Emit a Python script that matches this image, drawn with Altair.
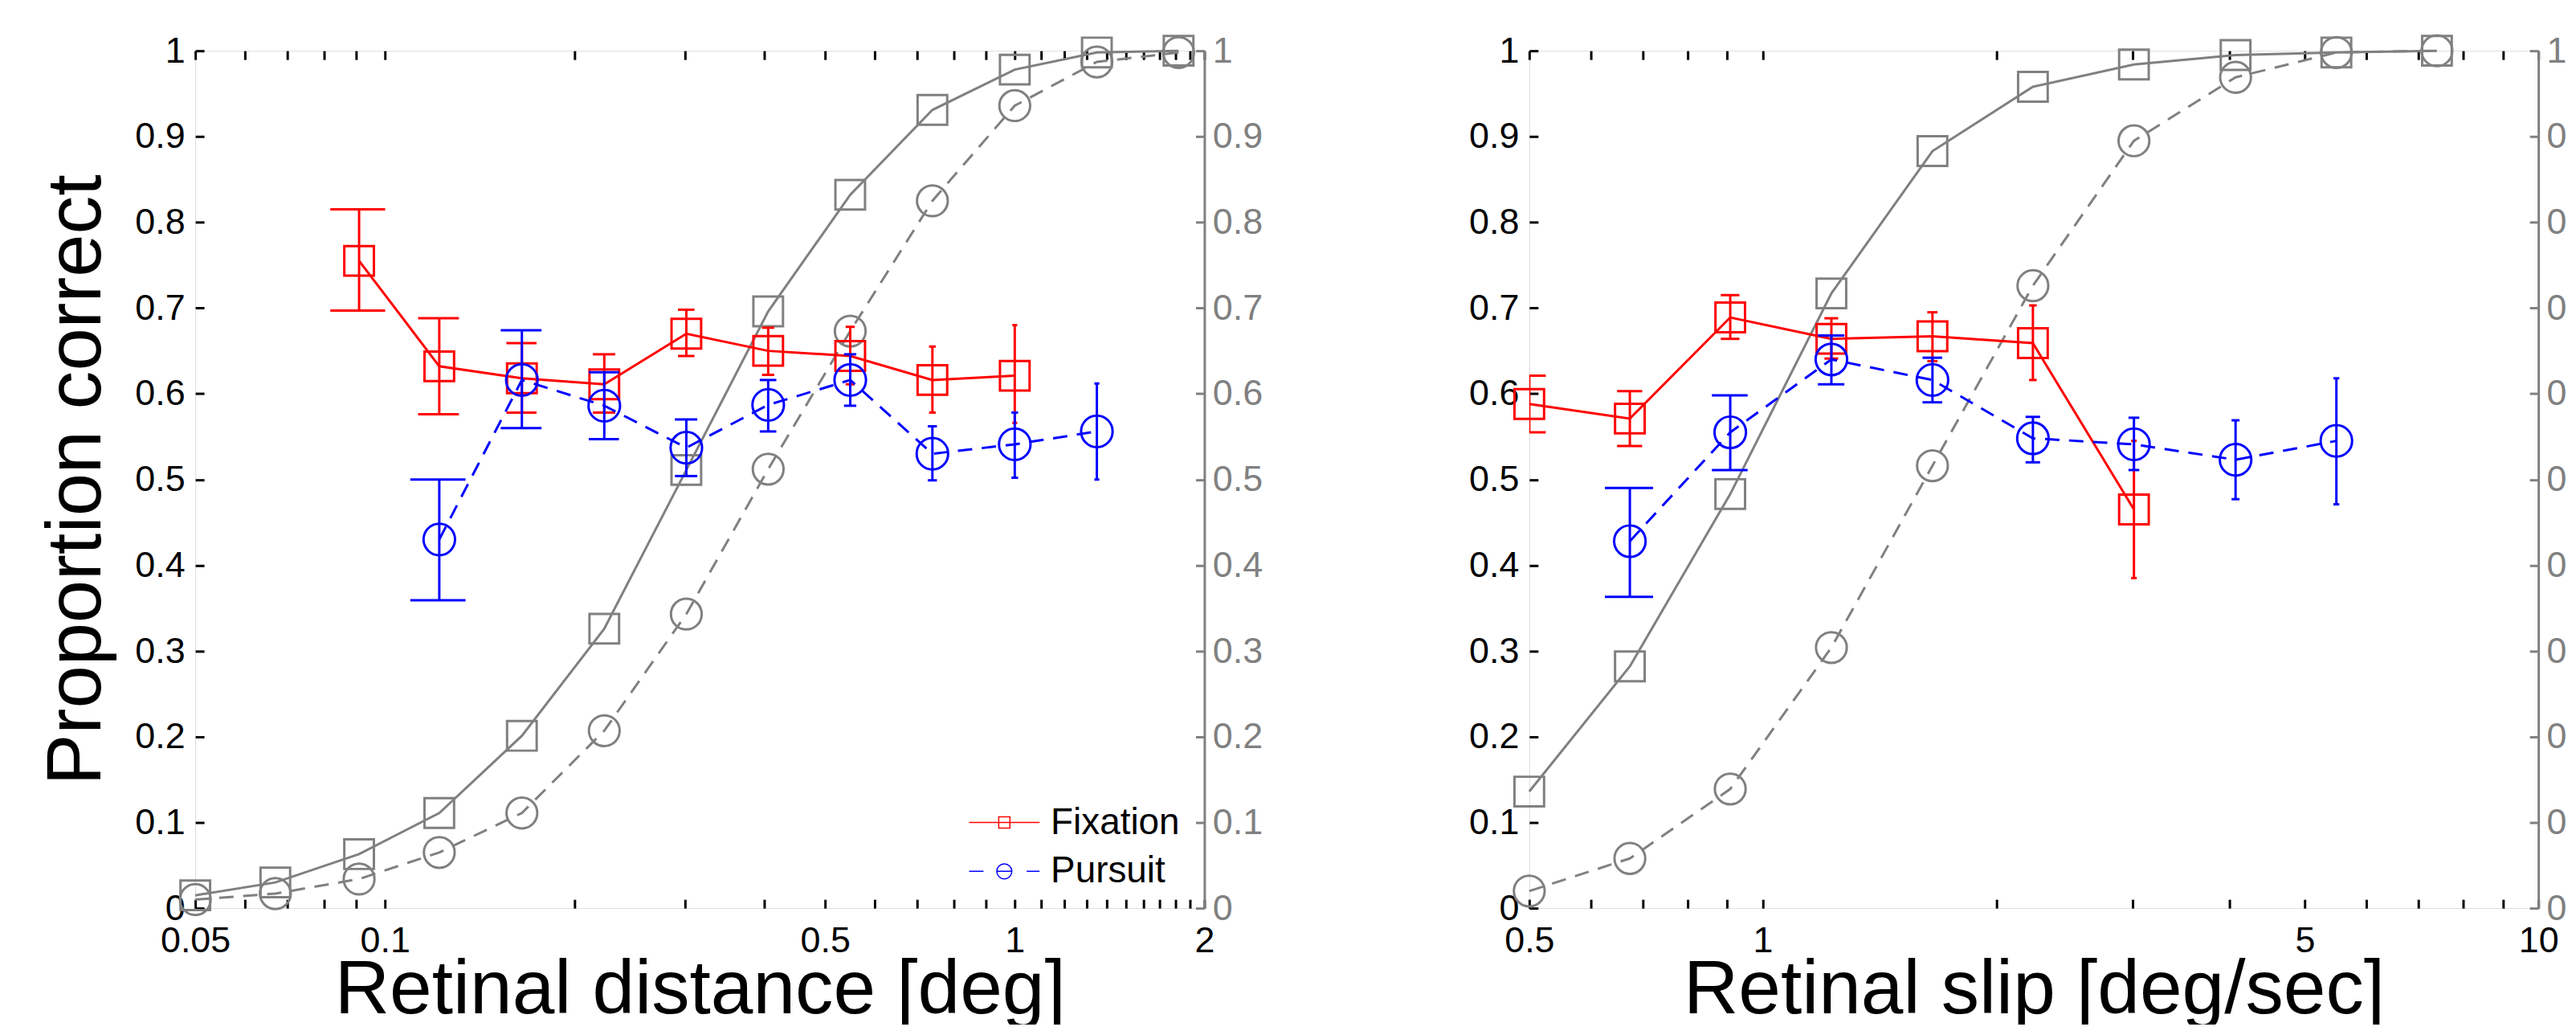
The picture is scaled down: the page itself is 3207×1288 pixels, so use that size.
import altair as alt
import pandas as pd

# ---------------- data ----------------
# Left panel: retinal distance [deg]
dist_x = [0.05, 0.067, 0.091, 0.122, 0.165, 0.223, 0.301, 0.406, 0.548, 0.740, 1.0, 1.35, 1.82]
dist_fix_fit = [0.015, 0.030, 0.063, 0.111, 0.201, 0.326, 0.511, 0.696, 0.832, 0.931, 0.978, 0.998, 1.0]
dist_pur_fit = [0.010, 0.017, 0.034, 0.065, 0.111, 0.207, 0.343, 0.512, 0.673, 0.825, 0.936, 0.987, 0.998]

dist_fix_x = [0.091, 0.122, 0.165, 0.223, 0.301, 0.406, 0.548, 0.740, 1.0]
dist_fix_m = [0.755, 0.632, 0.618, 0.611, 0.670, 0.650, 0.644, 0.616, 0.621]
dist_fix_hi = [0.815, 0.688, 0.659, 0.646, 0.698, 0.677, 0.678, 0.655, 0.680]
dist_fix_lo = [0.697, 0.576, 0.578, 0.578, 0.644, 0.622, 0.611, 0.578, 0.566]

dist_pur_x = [0.122, 0.165, 0.223, 0.301, 0.406, 0.548, 0.740, 1.0, 1.35]
dist_pur_m = [0.430, 0.616, 0.586, 0.537, 0.587, 0.616, 0.530, 0.541, 0.556]
dist_pur_hi = [0.500, 0.674, 0.625, 0.570, 0.616, 0.646, 0.562, 0.578, 0.612]
dist_pur_lo = [0.359, 0.560, 0.547, 0.504, 0.556, 0.586, 0.499, 0.502, 0.500]

# Right panel: retinal slip [deg/sec]
slip_x = [0.5, 0.674, 0.908, 1.226, 1.655, 2.23, 3.01, 4.07, 5.49, 7.4]
slip_fix_fit = [0.136, 0.282, 0.483, 0.717, 0.883, 0.958, 0.984, 0.995, 0.998, 1.0]
slip_pur_fit = [0.020, 0.058, 0.139, 0.304, 0.516, 0.726, 0.895, 0.969, 0.998, 1.0]

slip_fix_x = [0.5, 0.674, 0.908, 1.226, 1.655, 2.23, 3.01]
slip_fix_m = [0.588, 0.571, 0.689, 0.664, 0.667, 0.659, 0.465]
slip_fix_hi = [0.621, 0.603, 0.715, 0.688, 0.695, 0.703, 0.545]
slip_fix_lo = [0.555, 0.539, 0.664, 0.641, 0.638, 0.616, 0.385]

slip_pur_x = [0.674, 0.908, 1.226, 1.655, 2.23, 3.01, 4.07, 5.49]
slip_pur_m = [0.428, 0.555, 0.640, 0.616, 0.548, 0.541, 0.523, 0.545]
slip_pur_hi = [0.490, 0.598, 0.668, 0.642, 0.573, 0.572, 0.569, 0.618]
slip_pur_lo = [0.363, 0.511, 0.611, 0.590, 0.520, 0.511, 0.477, 0.471]

# axis ticks
dist_ticks = [0.05, 0.06, 0.07, 0.08, 0.09, 0.1, 0.2, 0.3, 0.4, 0.5, 0.6, 0.7, 0.8, 0.9,
              1.0, 1.1, 1.2, 1.3, 1.4, 1.5, 1.6, 1.7, 1.8, 1.9, 2.0]
dist_labels = [0.05, 0.1, 0.5, 1, 2]
slip_ticks = [0.5, 0.6, 0.7, 0.8, 0.9, 1, 2, 3, 4, 5, 6, 7, 8, 9, 10]
slip_labels = [0.5, 1, 5, 10]
y_ticks = [0, 0.1, 0.2, 0.3, 0.4, 0.5, 0.6, 0.7, 0.8, 0.9, 1]

series_names = ["Fixation", "Pursuit"]

# ---------------- style ----------------
GRAY = "#808080"
RED = "#ff0000"
BLUE = "#0000ff"
FONT = "Liberation Sans"
W, H = 1261, 1071
TK = 11          # inward tick length
LW = 3

SQ = 1369
CI_G = 1480
CI_B = 1550

FIX_PATH = "M-2.2,0H2.2M-0.35,-0.35H0.35V0.35H-0.35Z"
PUR_PATH = ("M-2.2,0H-1.3M-0.47,0H0.47M1.4,0H2.2"
            "M0.47,0A0.47,0.47,0,1,1,-0.47,0A0.47,0.47,0,1,1,0.47,0Z")


def err_frame(xs, m, hi, lo):
    tee = (max(xs) - min(xs)) / 100.0   # MATLAB errorbar cap half-width
    return pd.DataFrame({"x": xs, "m": m, "hi": hi, "lo": lo,
                         "xl": [v - tee for v in xs], "xr": [v + tee for v in xs]})


def panel(gx, gfix, gpur, fx, fm, fhi, flo, px, pm, phi, plo,
          dom, ticks, labels, xtitle, ytitle, with_legend):
    xs = alt.Scale(type="log", domain=dom, nice=False)
    ys = alt.Scale(domain=[0, 1], nice=False, zero=False)
    gray = pd.DataFrame({"x": gx, "fix": gfix, "pur": gpur})
    fdf = err_frame(fx, fm, fhi, flo)
    pdf = err_frame(px, pm, phi, plo)

    lab_list = ",".join(repr(v) for v in labels)
    ax_bottom = alt.Axis(orient="bottom", values=ticks, format="~g",
                         labelExpr=f"indexof([{lab_list}], datum.value) >= 0 ? datum.label : ''",
                         offset=-TK, tickSize=TK, tickWidth=LW, tickColor="black",
                         domain=False, grid=False, labelFontSize=45, labelColor="black",
                         labelPadding=19, labelFlush=False, labelOverlap=False,
                         title=xtitle, titleFontSize=95, titleFontWeight="normal",
                         titlePadding=-8, titleColor="black")
    ax_top = alt.Axis(orient="top", values=ticks, offset=-TK, tickSize=TK, tickWidth=LW,
                      tickColor="black", labels=False, domain=False, grid=False, title=None)
    ax_left_kw = dict(orient="left", values=y_ticks, format="~g", offset=-TK, tickSize=TK,
                      tickWidth=LW, tickColor="black", domain=False, grid=False,
                      labelFontSize=45, labelColor="black", labelPadding=13, labelOverlap=False)
    if ytitle:
        ax_left = alt.Axis(title=ytitle, titleFontSize=96, titleFontWeight="normal",
                           titlePadding=24, titleColor="black", **ax_left_kw)
    else:
        ax_left = alt.Axis(title=None, **ax_left_kw)
    ax_right = alt.Axis(orient="right", values=y_ticks, format="~g", offset=-TK, tickSize=TK,
                        tickWidth=LW, tickColor=GRAY, domain=False, grid=False,
                        labelFontSize=45, labelColor=GRAY, labelPadding=10,
                        labelOverlap=False, title=None)
    ax_right_line = alt.Axis(orient="right", offset=0, domain=True, domainColor=GRAY,
                             domainWidth=LW, ticks=False, labels=False, grid=False, title=None)

    def X(field="x", axis=None):
        return alt.X(f"{field}:Q", scale=xs, axis=axis)

    def Y(field, axis=None):
        return alt.Y(f"{field}:Q", scale=ys, axis=axis)

    base_g = alt.Chart(gray)
    layers = [
        base_g.mark_line(color=GRAY, strokeWidth=LW).encode(
            x=X(axis=ax_bottom), y=Y("fix", axis=ax_left)),
        base_g.mark_line(color=GRAY, strokeWidth=LW, strokeDash=[18, 12]).encode(
            x=X(axis=ax_top), y=Y("pur", axis=ax_right)),
        base_g.mark_point(shape="square", size=SQ, filled=False, color=GRAY,
                          strokeWidth=LW, opacity=1).encode(
            x=X(), y=Y("fix", axis=ax_right_line)),
        base_g.mark_point(shape="circle", size=CI_G, filled=False, color=GRAY,
                          strokeWidth=LW, opacity=1).encode(x=X(), y=Y("pur")),
    ]

    for df, col, shape, size, dash in [(fdf, RED, "square", SQ, None),
                                       (pdf, BLUE, "circle", CI_B, [18, 12])]:
        b = alt.Chart(df)
        layers.append(b.mark_rule(color=col, strokeWidth=LW, clip=True).encode(
            x=X(), y=Y("lo"), y2="hi:Q"))
        layers.append(b.mark_rule(color=col, strokeWidth=LW, clip=True).encode(
            x=X("xl"), x2="xr:Q", y=Y("hi")))
        layers.append(b.mark_rule(color=col, strokeWidth=LW, clip=True).encode(
            x=X("xl"), x2="xr:Q", y=Y("lo")))
        if dash:
            line = b.mark_line(color=col, strokeWidth=LW, strokeDash=dash)
        else:
            line = b.mark_line(color=col, strokeWidth=LW)
        layers.append(line.encode(x=X(), y=Y("m")))
        layers.append(b.mark_point(shape=shape, size=size, filled=False, color=col,
                                   strokeWidth=LW, opacity=1).encode(x=X(), y=Y("m")))

    if with_legend:
        ldf = pd.concat([fdf.assign(series=series_names[0]),
                         pdf.assign(series=series_names[1])], ignore_index=True)
        leg = alt.Legend(title=None, orient="none", legendX=988, legendY=941, padding=0,
                         symbolSize=1600, symbolStrokeWidth=1.5, symbolOpacity=1,
                         labelOffset=35, rowPadding=15, labelFontSize=46, labelFont=FONT,
                         labelColor="black", labelLimit=400)
        layers.append(alt.Chart(ldf).mark_point(filled=False, opacity=0).encode(
            x=X(), y=Y("m"),
            color=alt.Color("series:N", scale=alt.Scale(domain=series_names, range=[RED, BLUE]),
                            legend=leg),
            shape=alt.Shape("series:N", scale=alt.Scale(domain=series_names,
                                                        range=[FIX_PATH, PUR_PATH]),
                            legend=leg)))

    return alt.layer(*layers).resolve_scale(x="independent", y="independent").properties(
        width=W, height=H)


left = panel(dist_x, dist_fix_fit, dist_pur_fit,
             dist_fix_x, dist_fix_m, dist_fix_hi, dist_fix_lo,
             dist_pur_x, dist_pur_m, dist_pur_hi, dist_pur_lo,
             [0.05, 2], dist_ticks, dist_labels, "Retinal distance [deg]",
             "Proportion correct", True)
right = panel(slip_x, slip_fix_fit, slip_pur_fit,
              slip_fix_x, slip_fix_m, slip_fix_hi, slip_fix_lo,
              slip_pur_x, slip_pur_m, slip_pur_hi, slip_pur_lo,
              [0.5, 10], slip_ticks, slip_labels, "Retinal slip [deg/sec]",
              None, False)

chart = alt.hconcat(left, right, spacing=255).properties(
    padding={"left": 38, "top": 27, "right": -35, "bottom": -8}
).configure_view(stroke="black", strokeWidth=3).configure_axis(
    labelFont=FONT, titleFont=FONT, titleFontWeight="normal"
).configure(background="white")

chart.save("out.html", embed_options={"renderer": "svg", "actions": False})
